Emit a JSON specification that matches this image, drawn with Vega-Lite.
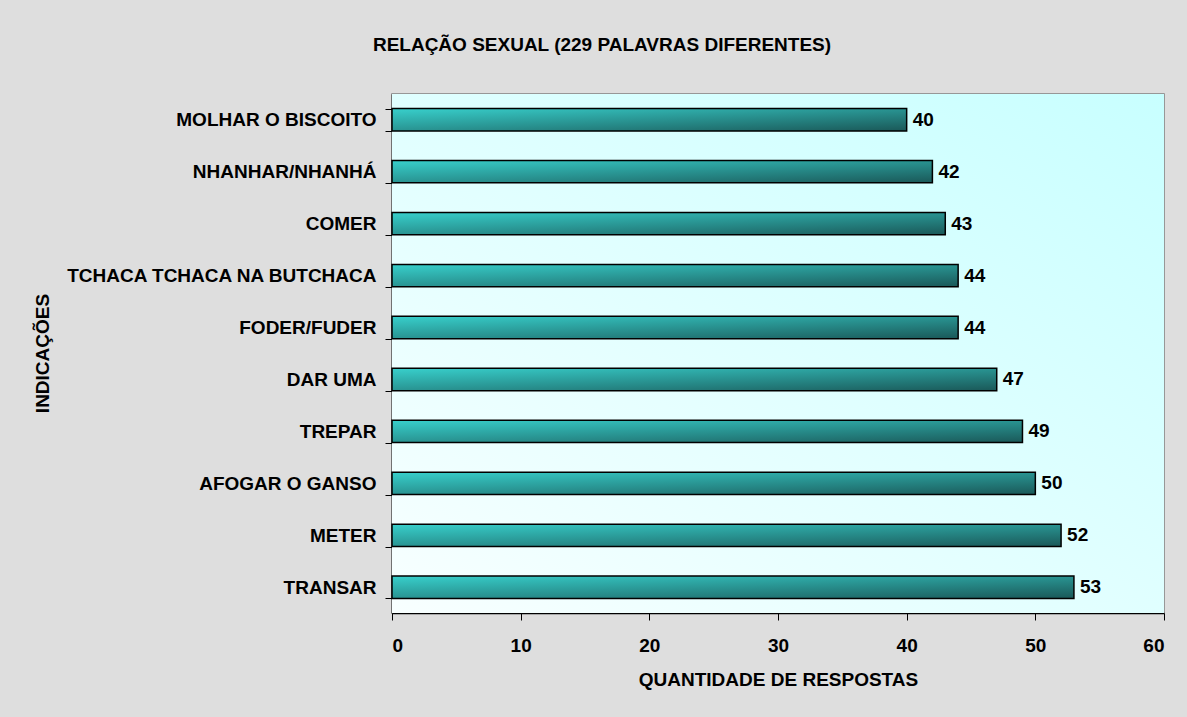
{
  "$schema": "https://vega.github.io/schema/vega-lite/v6.json",
  "width": 772,
  "height": 519,
  "autosize": {"type": "none"},
  "padding": {"left": 392, "top": 94, "right": 23, "bottom": 104},
  "background": "#dedede",
  "config": {
    "font": "Liberation Sans",
    "view": {"stroke": "#808080", "strokeWidth": 1.5}
  },
  "title": {
    "text": "RELAÇÃO SEXUAL (229 PALAVRAS DIFERENTES)",
    "anchor": "middle",
    "frame": "group",
    "dx": -176,
    "offset": 30,
    "fontSize": 19,
    "fontWeight": "bold",
    "color": "#000000",
    "font": "Liberation Sans"
  },
  "data": {
    "values": [
      {"indicacao": "MOLHAR O BISCOITO", "respostas": 40},
      {"indicacao": "NHANHAR/NHANHÁ", "respostas": 42},
      {"indicacao": "COMER", "respostas": 43},
      {"indicacao": "TCHACA TCHACA NA BUTCHACA", "respostas": 44},
      {"indicacao": "FODER/FUDER", "respostas": 44},
      {"indicacao": "DAR UMA", "respostas": 47},
      {"indicacao": "TREPAR", "respostas": 49},
      {"indicacao": "AFOGAR O GANSO", "respostas": 50},
      {"indicacao": "METER", "respostas": 52},
      {"indicacao": "TRANSAR", "respostas": 53}
    ]
  },
  "encoding": {
    "y": {
      "field": "indicacao",
      "type": "nominal",
      "sort": null,
      "scale": {"paddingInner": 0.57, "paddingOuter": 0.28},
      "axis": {
        "title": "INDICAÇÕES",
        "titleFontSize": 19,
        "titleFontWeight": "bold",
        "titleColor": "#000000",
        "titleX": -350,
        "titleY": 259,
        "titleAngle": -90,
        "titleAlign": "center",
        "titleBaseline": "middle",
        "labelFontSize": 19,
        "labelFontWeight": "bold",
        "labelColor": "#000000",
        "labelPadding": 9,
        "tickBand": "extent",
        "tickSize": 7,
        "tickColor": "#000000",
        "domainColor": "#000000",
        "domainWidth": 1.5,
        "labelLimit": 400
      }
    },
    "x": {
      "field": "respostas",
      "type": "quantitative",
      "scale": {"domain": [0, 60], "nice": false},
      "axis": {
        "title": "QUANTIDADE DE RESPOSTAS",
        "titleFontSize": 19,
        "titleFontWeight": "bold",
        "titleColor": "#000000",
        "titlePadding": 15,
        "labelFontSize": 19,
        "labelFontWeight": "bold",
        "labelColor": "#000000",
        "labelPadding": 16,
        "values": [0, 10, 20, 30, 40, 50, 60],
        "tickSize": 7,
        "tickColor": "#000000",
        "domainColor": "#000000",
        "domainWidth": 1.5,
        "grid": false
      }
    }
  },
  "layer": [
    {
      "mark": {
        "type": "rect",
        "color": {
          "gradient": "linear",
          "x1": 0, "y1": 1, "x2": 1, "y2": 0,
          "stops": [
            {"offset": 0, "color": "#f8ffff"},
            {"offset": 1, "color": "#c8ffff"}
          ]
        }
      },
      "encoding": {
        "x": {"datum": 0},
        "x2": {"datum": 60},
        "y": null
      }
    },
    {
      "mark": {
        "type": "bar",
        "stroke": "#000000",
        "strokeWidth": 1.5,
        "color": {
          "gradient": "linear",
          "x1": 0, "y1": 0, "x2": 1, "y2": 1,
          "stops": [
            {"offset": 0, "color": "#38d0cc"},
            {"offset": 1, "color": "#1a5858"}
          ]
        }
      }
    },
    {
      "mark": {
        "type": "text",
        "align": "left",
        "baseline": "middle",
        "dx": 6,
        "fontSize": 19,
        "fontWeight": "bold",
        "color": "#000000"
      },
      "encoding": {
        "text": {"field": "respostas", "type": "quantitative"}
      }
    }
  ]
}
